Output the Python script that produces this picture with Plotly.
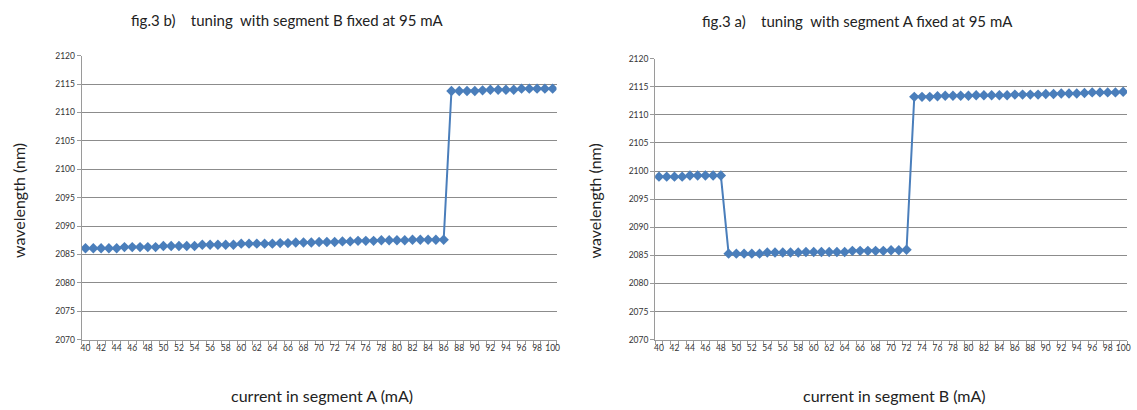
import plotly.graph_objects as go

# ---- data ----
current = list(range(40, 101))

# fig.3 b) tuning with segment B fixed at 95 mA (x = current in segment A)
wl_b = [2086.1, 2086.1, 2086.1, 2086.1, 2086.1,
        2086.3, 2086.3, 2086.3, 2086.3, 2086.3,
        2086.5, 2086.5, 2086.5, 2086.5, 2086.5,
        2086.7, 2086.7, 2086.7, 2086.7, 2086.7,
        2086.9, 2086.9, 2086.9, 2086.9, 2086.9,
        2087.0, 2087.0, 2087.1, 2087.1, 2087.1,
        2087.2, 2087.2, 2087.2, 2087.3, 2087.3,
        2087.4, 2087.4, 2087.4, 2087.5, 2087.5,
        2087.5, 2087.5, 2087.6, 2087.6, 2087.6,
        2087.6, 2087.6,
        2113.8, 2113.8, 2113.8, 2113.8, 2113.9,
        2114.0, 2114.0, 2114.0, 2114.0, 2114.2,
        2114.2, 2114.2, 2114.2, 2114.2]

# fig.3 a) tuning with segment A fixed at 95 mA (x = current in segment B)
wl_a = [2099.0, 2099.0, 2099.0, 2099.0, 2099.2,
        2099.2, 2099.2, 2099.2, 2099.2,
        2085.3, 2085.3, 2085.3, 2085.3, 2085.3,
        2085.5, 2085.5, 2085.5, 2085.5, 2085.5,
        2085.6, 2085.6, 2085.6, 2085.6, 2085.6,
        2085.6, 2085.8, 2085.8, 2085.8, 2085.8,
        2085.8, 2085.9, 2085.9, 2086.0,
        2113.2, 2113.2, 2113.2, 2113.3, 2113.4,
        2113.4, 2113.4, 2113.4, 2113.5, 2113.5,
        2113.5, 2113.5, 2113.5, 2113.6, 2113.6,
        2113.6, 2113.6, 2113.7, 2113.7, 2113.8,
        2113.8, 2113.8, 2113.9, 2114.0, 2114.0,
        2114.0, 2114.0, 2114.1]

y_ticks = list(range(2070, 2121, 5))
x_ticks = list(range(40, 101, 2))

titles = ["fig.3 b)    tuning  with segment B fixed at 95 mA",
          "fig.3 a)    tuning  with segment A fixed at 95 mA"]
x_titles = ["current in segment A (mA)", "current in segment B (mA)"]
y_title = "wavelength (nm)"

# ---- figure ----
W, H = 1137, 410
FONT = "Lato, Open Sans, sans-serif"
BLUE = "#4a7ebb"
GRID = "#8c8c8c"
AX = "#9a9a9a"

fig = go.Figure()
for i, ys in enumerate([wl_b, wl_a]):
    fig.add_trace(go.Scatter(
        x=current, y=ys, mode="lines+markers",
        line=dict(color=BLUE, width=2),
        marker=dict(symbol="diamond", size=8, color=BLUE),
        xaxis="x" if i == 0 else "x2", yaxis="y" if i == 0 else "y2",
        showlegend=False, hoverinfo="x+y"))


def px_x(p):
    return p / W


def px_y(p):
    return 1 - p / H


def xaxis(dom, anchor):
    return dict(domain=dom, anchor=anchor, range=[39.5, 100.5],
                tickvals=x_ticks, ticks="", showgrid=False, zeroline=False,
                showline=True, linecolor=AX, linewidth=1,
                tickfont=dict(family=FONT, size=8.5, color="#333"),
                minor=dict(tick0=39.5, dtick=1, ticks="outside", ticklen=4,
                           tickcolor=AX, showgrid=False))


def yaxis(dom, anchor):
    return dict(domain=dom, anchor=anchor, range=[2070, 2120],
                tickvals=y_ticks, ticks="outside", ticklen=4, tickcolor=AX,
                showgrid=True, gridcolor=GRID, gridwidth=1, zeroline=False,
                showline=True, linecolor=AX, linewidth=1,
                tickfont=dict(family=FONT, size=8.5, color="#333"))


xa1 = xaxis([px_x(81), px_x(558)], "y")
xa2 = xaxis([px_x(657), px_x(1131)], "y2")
ya1 = yaxis([px_y(343), px_y(52)], "x")
ya2 = yaxis([px_y(343), px_y(55)], "x2")

ann = []
for cx, cy, t in [(288, 15, titles[0]), (860, 16, titles[1])]:
    ann.append(dict(x=px_x(cx), y=px_y(cy), xref="paper", yref="paper",
                    text=t, showarrow=False, xanchor="center", yanchor="middle",
                    font=dict(family=FONT, size=15, color="#222")))
for cx, cy, t in [(322, 400, x_titles[0]), (897, 400, x_titles[1])]:
    ann.append(dict(x=px_x(cx), y=px_y(cy), xref="paper", yref="paper",
                    text=t, showarrow=False, xanchor="center", yanchor="middle",
                    font=dict(family=FONT, size=16, color="#222")))
for cx, cy in [(17, 200), (596, 201)]:
    ann.append(dict(x=px_x(cx), y=px_y(cy), xref="paper", yref="paper",
                    text=y_title, showarrow=False, textangle=-90,
                    xanchor="center", yanchor="middle",
                    font=dict(family=FONT, size=16, color="#222")))

fig.update_layout(
    width=W, height=H,
    margin=dict(l=0, r=0, t=0, b=0),
    paper_bgcolor="white", plot_bgcolor="white",
    xaxis=xa1, yaxis=ya1, xaxis2=xa2, yaxis2=ya2,
    annotations=ann,
)

fig.write_html("out.html", config={"displayModeBar": False},
               post_script="document.body.style.margin='0';document.body.style.overflow='hidden';")
